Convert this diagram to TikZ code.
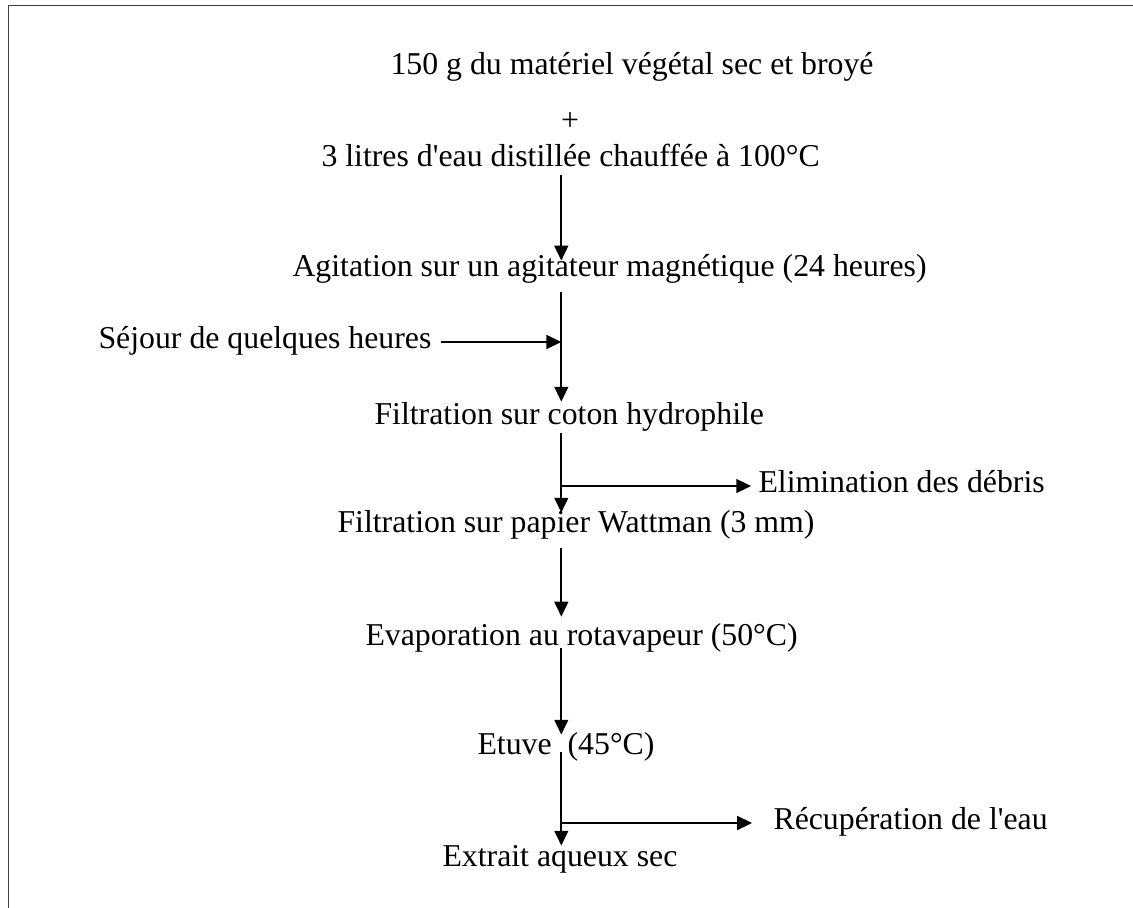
\documentclass[tikz,border=0pt]{standalone}
\usepackage{fontspec}
\setmainfont{Liberation Serif}
\usetikzlibrary{arrows.meta}

\begin{document}
\begin{tikzpicture}[x=0.3774pt, y=-0.3774pt, font=\fontsize{12}{14}\selectfont,
    etape/.style={anchor=base west, inner sep=0pt, text height=7.5pt, text depth=3pt},
    cote/.style={anchor=mid west, inner sep=0pt},
    fleche/.style={line width=0.75pt, -{Triangle[length=5.6pt, width=5.2pt]}}]
    \useasboundingbox (0,0) rectangle (1133,908);
    % cadre
    \draw[line width=0.6pt, black!75] (8.7,908) -- (8.7,5.7) -- (1133,5.7);

    \coordinate (ax) at (561.3,0);
    \node[etape] (titre) at (390,75) {150 g du matériel végétal sec et broyé};
    \node[inner sep=0pt] (plus) at (570,122) {+};
    \node[etape] (eau) at (321,167) {3 litres d\textquotesingle eau distillée chauffée à 100°C};
    \node[etape] (agit) at (292,277) {Agitation sur un agitateur magnétique (24 heures)};
    \node[cote] (sejour) at (98,342) {Séjour de quelques heures};
    \node[etape] (coton) at (374,425) {Filtration sur coton hydrophile};
    \node[cote] (debris) at (758,486) {Elimination des débris};
    \node[etape] (papier) at (337,533) {Filtration sur papier Wattman (3 mm)};
    \node[etape] (evap) at (365,646) {Evaporation au rotavapeur (50°C)};
    \node[etape] (etuve) at (477,755) {Etuve~~(45°C)};
    \node[cote] (recup) at (773,823) {Récupération de l\textquotesingle eau};
    \node[etape] (extrait) at (442,866) {Extrait aqueux sec};

    % axe principal
    \draw[fleche, shorten >=-1.5pt] (eau.south -| ax) -- (agit.north -| ax);
    \draw[fleche, shorten <=2.6pt, shorten >=1.1pt] (agit.south -| ax) -- (coton.north -| ax);
    \draw[fleche] (coton.south -| ax) -- (papier.north -| ax);
    \draw[fleche, shorten <=2.3pt, shorten >=3.4pt] (papier.south -| ax) -- (evap.north -| ax);
    \draw[fleche, shorten <=-2.6pt] (evap.south -| ax) -- (etuve.north -| ax);
    \draw[fleche, shorten <=-4.5pt] (etuve.south -| ax) -- (extrait.north -| ax);

    % branches
    \draw[fleche, shorten <=3.6pt] (sejour.mid east) -- (sejour.mid east -| ax);
    \draw[fleche, shorten >=2.6pt] (debris.mid west -| ax) -- (debris.mid west);
    \draw[fleche, shorten >=7.9pt] (recup.mid west -| ax) -- (recup.mid west);
\end{tikzpicture}
\end{document}
